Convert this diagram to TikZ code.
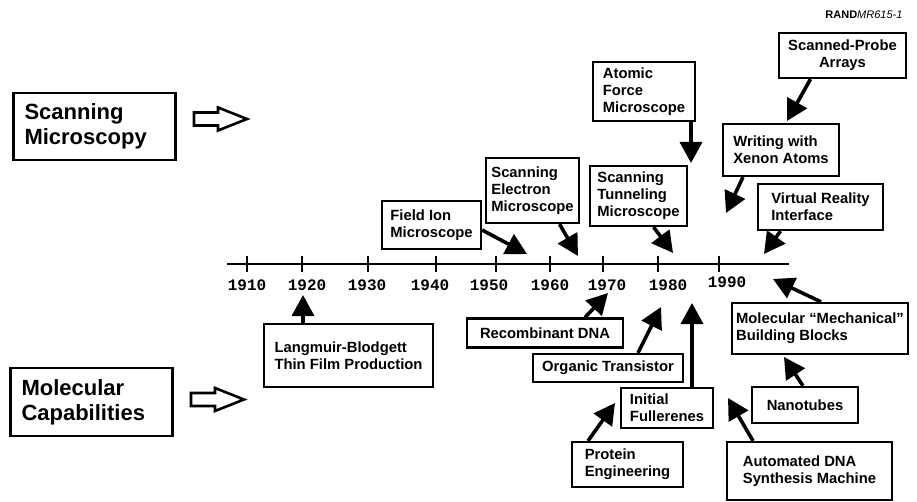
\documentclass[tikz,border=0pt]{standalone}
\usepackage{fontspec}
\setmainfont{Liberation Sans}
\setmonofont{Liberation Mono}
\usetikzlibrary{arrows.meta}
\newcommand{\boxfont}{\fontsize{14.8pt}{17pt}\selectfont\bfseries}
\newcommand{\bigfont}{\fontsize{22pt}{25pt}\selectfont\bfseries}
\newcommand{\yearfont}{\fontsize{16pt}{16pt}\selectfont\ttfamily\bfseries}
\tikzset{evbox/.style 2 args={draw,line width=2.2pt,font=\boxfont,align=left,inner sep=3pt,minimum width=#1,minimum height=#2}}
\begin{document}
\begin{tikzpicture}[x=1pt,y=-1pt,line join=miter]
\tikzstyle{timeline}=[line width=2.8pt]
\tikzstyle{tick}=[line width=2.2pt]
\tikzstyle{evarrow}=[line width=3.6pt,-{Triangle[length=21pt,width=22pt]}]
\tikzstyle{hollow}=[line width=2.6pt]
\tikzstyle{bigbox}=[draw,line width=2.2pt,font=\bigfont,align=left,text width=140pt,inner xsep=11pt,minimum height=#1]
\useasboundingbox (0,0) rectangle (917,502);

\node[anchor=east,font=\fontsize{11pt}{12pt}\selectfont] (rand) at (906,15) {\textbf{RAND}\textit{MR615-1}};

% left headings
\node[bigbox=67pt] (scan) at (94.5,126.5) {Scanning\\Microscopy};
\node[bigbox=68pt] (mol) at (91.5,402) {Molecular\\Capabilities};
\foreach \xx/\yy in {194/119,191/399.5}
	\draw[hollow] (\xx,\yy-6.5) -- ++(24,0) -- ++(0,-5) -- ++(29,11.5) -- ++(-29,11.5) -- ++(0,-5) -- ++(-24,0) -- cycle;

% time line
\coordinate (tl0) at (227,264);
\coordinate (tl1) at (789,264);
\draw[timeline] (tl0) -- (tl1);
\foreach \yr/\xx/\lx/\ly in {1910/247/247/285,1920/302/307/285,1930/368/367/285,1940/436/430/285,1950/496/489/285,1960/550/550/285,1970/603/607/285,1980/658/668/285,1990/719/727/282}{
	\draw[tick] (\xx,256) -- (\xx,272);
	\node[font=\yearfont,inner sep=0pt] (y\yr) at (\lx,\ly) {\yr};
}

% scanning microscopy events
\node[evbox={99pt}{48pt}] (fim) at (431.5,225) {Field Ion\\Microscope};
\node[evbox={93pt}{65pt}] (sem) at (532.5,190.5) {Scanning\\Electron\\Microscope};
\node[evbox={102pt}{59pt}] (afm) at (644,91.5) {Atomic\\Force\\Microscope};
\node[evbox={97pt}{60pt}] (stm) at (638.5,196) {Scanning\\Tunneling\\Microscope};
\node[evbox={127pt}{45pt},align=center] (spa) at (842.5,55.5) {Scanned-Probe\\Arrays};
\node[evbox={116pt}{52pt}] (wxa) at (781,150) {Writing with\\Xenon Atoms};
\node[evbox={125pt}{46pt}] (vri) at (820.5,207) {Virtual Reality\\Interface};

% molecular capability events
\node[evbox={169pt}{63pt}] (lbf) at (348.5,355.5) {Langmuir-Blodgett\\Thin Film Production};
\node[evbox={156pt}{29pt}] (rdna) at (545,333) {Recombinant DNA};
\node[evbox={150pt}{28pt}] (otr) at (608,368) {Organic Transistor};
\node[evbox={92pt}{40pt}] (ifu) at (667,408) {Initial\\Fullerenes};
\node[evbox={111pt}{45pt}] (pen) at (627.5,464.5) {Protein\\Engineering};
\node[evbox={176pt}{51pt}] (mmb) at (820,328.5) {Molecular ``Mechanical''\\Building Blocks};
\node[evbox={106pt}{36pt},align=center] (ntu) at (805,405) {Nanotubes};
\node[evbox={165pt}{58pt}] (adna) at (809.5,471) {Automated DNA\\Synthesis Machine};

% arrow tips
\coordinate (fimtip) at (527,254);
\coordinate (semtip) at (578,256);
\coordinate (afmtip) at (691,163);
\coordinate (stmtip) at (673,253);
\coordinate (spatip) at (787,121);
\coordinate (wxatip) at (726,213);
\coordinate (vritip) at (764,254);
\coordinate (lbftip) at (303,295);
\coordinate (rdnatip) at (608,293);
\coordinate (otrtip) at (661,307);
\coordinate (ifutip) at (692,303);
\coordinate (pentip) at (615,403);
\coordinate (mmbtip) at (773,279);
\coordinate (ntutip) at (784,357);
\coordinate (adnatip) at (728,398);

\draw[evarrow] ([yshift=-5pt]fim.east) -- (fimtip);
\draw[evarrow] ([xshift=27pt]sem.south) -- (semtip);
\draw[evarrow] ([xshift=47pt]afm.south) -- (afmtip);
\draw[evarrow] ([xshift=15pt]stm.south) -- (stmtip);
\draw[evarrow] ([xshift=-32pt]spa.south) -- (spatip);
\draw[evarrow] ([xshift=-38pt]wxa.south) -- (wxatip);
\draw[evarrow] ([xshift=-40pt]vri.south) -- (vritip);
\draw[evarrow] ([xshift=-45.5pt]lbf.north) -- (lbftip);
\draw[evarrow] ([xshift=40pt]rdna.north) -- (rdnatip);
\draw[evarrow] ([xshift=30pt]otr.north) -- (otrtip);
\draw[evarrow] ([xshift=25pt]ifu.north) -- (ifutip);
\draw[evarrow] ([xshift=-39.5pt]pen.north) -- (pentip);
\draw[evarrow] ([xshift=1pt]mmb.north) -- (mmbtip);
\draw[evarrow] ([xshift=-2pt]ntu.north) -- (ntutip);
\draw[evarrow] ([xshift=-56.5pt]adna.north) -- (adnatip);
\end{tikzpicture}
\end{document}
